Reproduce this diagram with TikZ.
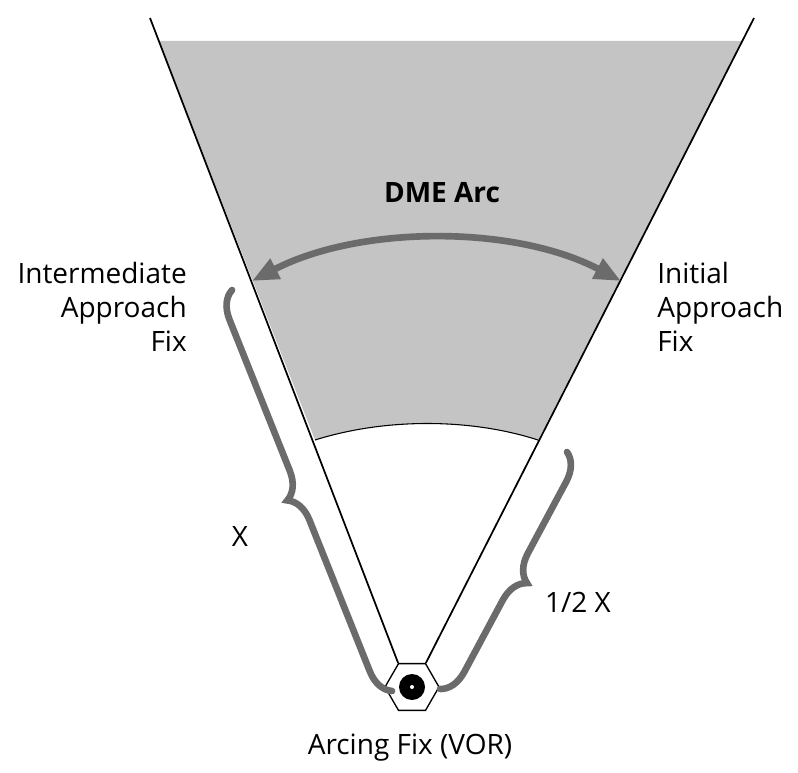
\documentclass[tikz,border=0pt]{standalone}
\usepackage{fontspec}
\setmainfont{Open Sans}
\usetikzlibrary{decorations.pathreplacing,arrows.meta,shapes.geometric}
\begin{document}
\begin{tikzpicture}[x=0.75pt,y=-0.75pt,
  txt/.style={font=\fontsize{21}{25.5}\selectfont, inner sep=0pt},
  brace/.style={draw=black!58, line width=5pt, line cap=round, decorate, decoration={brace, amplitude=20pt, aspect=0.5}},
  edge/.style={draw=black, line width=1.3pt}]
\useasboundingbox (0,0) rectangle (798,773);
\fill[black!23] (159,41) -- (742,41) -- (538,440) .. controls (470,418) and (385,418) .. (315,440) -- cycle;
\draw[black, line width=0.8pt] (538,440) .. controls (470,418) and (385,418) .. (315,440);
\coordinate (LT) at (150,18);
\coordinate (RT) at (754,18);
\node[regular polygon, regular polygon sides=6, draw=black, line width=1pt, fill=white, minimum size=54*0.75pt, inner sep=0pt] (vor) at (412,687) {};
\fill[black] (vor.center) circle[radius=13*0.75pt];
\fill[white] (vor.center) circle[radius=2*0.75pt];
\draw[edge] (LT) -- (vor.corner 2);
\draw[edge] (RT) -- (vor.corner 1);
\coordinate (A1) at (252,281);
\coordinate (A2) at (621,281);
\draw[black!58, line width=5pt, {Triangle[length=20pt,width=16pt]}-{Triangle[length=20pt,width=16pt]}] (A1) .. controls (360,225) and (515,225) .. (A2);
\coordinate (B1) at (392,691);
\coordinate (B2) at (232,290);
\draw[brace] (B1) -- (B2);
\coordinate (C1) at (567,452);
\coordinate (C2) at (440,689);
\draw[brace] (C1) -- (C2);
\node[txt, font=\fontsize{21}{25.5}\selectfont\bfseries] (dme) at (442,193) {DME Arc};
\node[txt, align=right, anchor=east] (iaf) at (187,307) {Intermediate\\Approach\\Fix};
\node[txt, align=left, anchor=west] (inf) at (657,307) {Initial\\Approach\\Fix};
\node[txt] (x) at (240,537) {X};
\node[txt] (hx) at (578,602) {1/2 X};
\node[txt] (arc) at (410,748) {Arcing Fix (VOR)};
\end{tikzpicture}
\end{document}
